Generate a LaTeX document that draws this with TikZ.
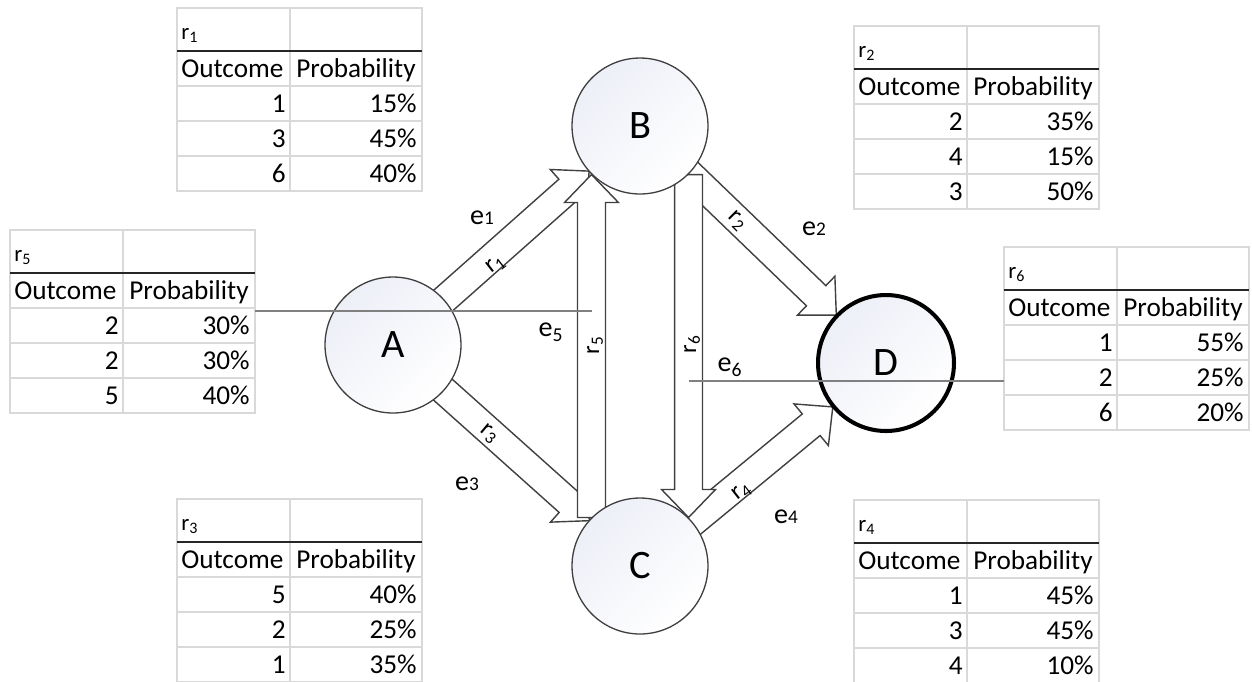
\documentclass[tikz,border=0pt]{standalone}
\usepackage{fontspec}
\setmainfont{Carlito}
\usetikzlibrary{calc,backgrounds}

\definecolor{linegray}{HTML}{404040}
\definecolor{gridgray}{HTML}{D9D9D9}
\definecolor{evtgray}{HTML}{808080}
\definecolor{statefill}{HTML}{EDEFF7}

\tikzset{
  state/.style={circle, draw=linegray, line width=0.75pt, minimum size=2.72cm, inner sep=0pt,
    top color=statefill, bottom color=white, shading angle=45, font=\fontsize{23}{23}\selectfont},
  flowarrow/.style={draw=linegray, fill=white, line width=0.8pt, line join=miter},
  evtline/.style={draw=evtgray, line width=1.1pt},
  gridline/.style={draw=gridgray, line width=0.6pt},
  headline/.style={draw=black!85, line width=1.2pt},
  cell/.style={inner sep=0pt, font=\fontsize{15.5}{15.5}\selectfont},
  rlabel/.style={inner sep=0pt, font=\fontsize{14}{14}\selectfont},
  elabel/.style={inner sep=0pt, font=\fontsize{16}{16}\selectfont},
  tabframe/.style={inner sep=0pt, minimum width=4.9cm, minimum height=3.66cm}
}

% hollow block arrow from #1 to the tip #2
\newcommand{\blockarrow}[2]{%
  \coordinate (ah) at ($(#2)!0.56cm!(#1)$);
  \draw[flowarrow] ($(#1)!0.28cm!90:(#2)$) -- ($(ah)!0.28cm!-90:(#1)$) -- ($(ah)!0.54cm!-90:(#1)$)
    -- (#2) -- ($(ah)!0.54cm!90:(#1)$) -- ($(ah)!0.28cm!90:(#1)$) -- ($(#1)!0.28cm!-90:(#2)$) -- cycle;}

% outcome table: name, top left corner, index, three outcome/probability pairs
\newcommand{\probtable}[9]{%
  \begin{scope}[shift={(#2)}]
    \node[tabframe] (#1) at (122.5,91.5) {};
    \draw[gridline] (0,0) rectangle (245,183) (113,0) -- (113,183);
    \foreach \yy in {78,113,148} \draw[gridline] (0,\yy) -- (245,\yy);
    \draw[headline] (0,43) -- (245,43);
    \node[cell, anchor=base west, font=\fontsize{13}{13}\selectfont] (#1-lab) at (4,31) {r\textsubscript{#3}};
    \node[cell, anchor=base west] (#1-oh) at (4,69) {Outcome};
    \node[cell, anchor=base west] (#1-ph) at (119,69) {Probability};
    \node[cell, anchor=base east] (#1-o1) at (109,104) {#4};
    \node[cell, anchor=base east] (#1-p1) at (240,104) {#5};
    \node[cell, anchor=base east] (#1-o2) at (109,139) {#6};
    \node[cell, anchor=base east] (#1-p2) at (240,139) {#7};
    \node[cell, anchor=base east] (#1-o3) at (109,174) {#8};
    \node[cell, anchor=base east] (#1-p3) at (240,174) {#9};
  \end{scope}}

\begin{document}
\begin{tikzpicture}[x=0.02cm, y=-0.02cm]
  \useasboundingbox (0,0) rectangle (1252,681);

  % states
  \node[state] (A) at (393,345) {A};
  \node[state] (B) at (640,126) {B};
  \node[state] (C) at (640,566) {C};
  \node[state, draw=black, line width=2.3pt] (D) at (886,363) {D};

  % arrow ends
  \coordinate (r1end) at ($(B)!1.36cm!(A)$);
  \coordinate (r2end) at ($(D)!1.38cm!(B)$);
  \coordinate (r3end) at ($(C)!1.36cm!(A)$);
  \coordinate (r4end) at ($(D)!1.38cm!(C)$);
  \coordinate (r5start) at (B.225 |- C.135);
  \coordinate (r6start) at (C.45 |- B.315);

  \begin{scope}[on background layer]
    \blockarrow{A}{r1end}
    \blockarrow{A}{r3end}
    \blockarrow{r5start}{B.225}
    \blockarrow{B}{r2end}
    \blockarrow{C}{r4end}
    \blockarrow{r6start}{C.45}
  \end{scope}

  % arrow labels
  \node[rlabel, rotate=38] (r1lab) at (496,265) {r\textsubscript{1}};
  \node[rlabel, rotate=-45] (r2lab) at (737,221) {r\textsubscript{2}};
  \node[rlabel, rotate=-40] (r3lab) at (489,434) {r\textsubscript{3}};
  \node[rlabel, rotate=38] (r4lab) at (742,492) {r\textsubscript{4}};
  \node[rlabel, rotate=90] (r5lab) at (595,345) {r\textsubscript{5}};
  \node[rlabel, rotate=90] (r6lab) at (692,344) {r\textsubscript{6}};

  \node[elabel] (e1) at (482,218) {e{\fontsize{11}{11}\selectfont 1}};
  \node[elabel] (e2) at (814,229) {e{\fontsize{11}{11}\selectfont 2}};
  \node[elabel] (e3) at (467,484) {e{\fontsize{11}{11}\selectfont 3}};
  \node[elabel] (e4) at (786,517) {e{\fontsize{11}{11}\selectfont 4}};
  \node[elabel] (e5) at (551,332) {e\textsubscript{5}};
  \node[elabel] (e6) at (730,367) {e\textsubscript{6}};

  % tables
  \probtable{tabR1}{177,8}{1}{1}{15\%}{3}{45\%}{6}{40\%}
  \probtable{tabR2}{854,26}{2}{2}{35\%}{4}{15\%}{3}{50\%}
  \probtable{tabR5}{10,230}{5}{2}{30\%}{2}{30\%}{5}{40\%}
  \probtable{tabR6}{1004,247}{6}{1}{55\%}{2}{25\%}{6}{20\%}
  \probtable{tabR3}{177,499}{3}{5}{40\%}{2}{25\%}{1}{35\%}
  \probtable{tabR4}{854,500}{4}{1}{45\%}{3}{45\%}{4}{10\%}

  % event lines
  \coordinate (e5end) at (592,311);
  \coordinate (e6start) at (689,381);
  \draw[evtline] (tabR5.east |- e5end) -- (e5end);
  \draw[evtline] (e6start) -- (tabR6.west |- e6start);
\end{tikzpicture}
\end{document}
